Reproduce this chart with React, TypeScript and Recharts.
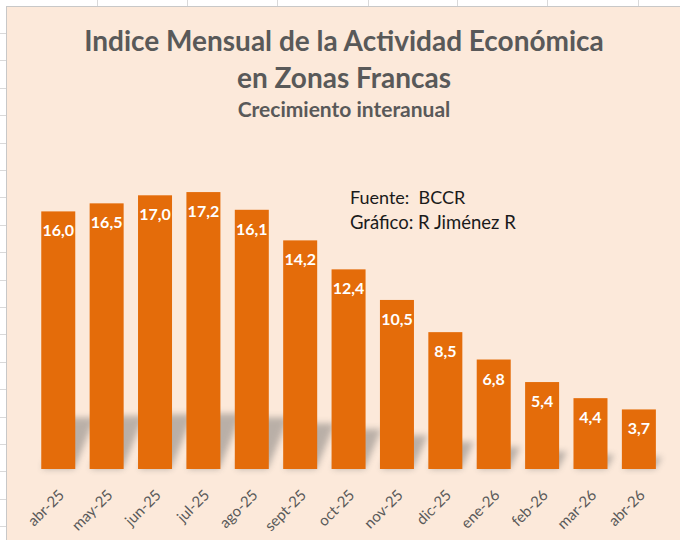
import { BarChart, Bar, XAxis, YAxis, LabelList } from "recharts";

// datos: crecimiento interanual del IMAE en zonas francas (%)
const months = [
  "abr-25",
  "may-25",
  "jun-25",
  "jul-25",
  "ago-25",
  "sept-25",
  "oct-25",
  "nov-25",
  "dic-25",
  "ene-26",
  "feb-26",
  "mar-26",
  "abr-26",
];
const growth = [16.0, 16.5, 17.0, 17.2, 16.1, 14.2, 12.4, 10.5, 8.5, 6.8, 5.4, 4.4, 3.7];

const chartData = months.map((m, i) => ({ mes: m, valor: growth[i] }));

const ORANGE = "#E46C0A";
const GRAY = "#595959";
const FONT = "Lato, 'Open Sans', sans-serif";

// columnas y filas de la hoja de cálculo detrás del gráfico
const sheetCols = [97, 187, 277, 368, 457, 547, 638];
const sheetRows = Array.from({ length: 19 }, (_, k) => 33 + k * 27.4);

const fmt = (v: number) => v.toFixed(1).replace(".", ",");

// barra con sombra en perspectiva (como el efecto de Excel)
const ShadowBar = (props: any) => {
  const { x, y, width, height } = props;
  if (!height) return null;
  const base = y + height;
  const sh = height * 0.2;
  const dx = sh * 0.35 + 2;
  const pts = [
    [x + 1, base],
    [x + width - 1, base],
    [x + width + dx, base - sh],
    [x + dx + 2, base - sh],
  ]
    .map((p) => p.join(","))
    .join(" ");
  return (
    <g>
      <polygon points={pts} fill="#6b6b6b" opacity={0.45} filter="url(#shadowBlur)" />
      <rect x={x} y={y} width={width} height={height} fill={ORANGE} />
    </g>
  );
};

const MonthTick = (props: any) => {
  const { x, y, payload } = props;
  const tx = x + 7;
  const ty = y + 19;
  return (
    <text
      x={tx}
      y={ty}
      transform={`rotate(-45, ${tx}, ${ty})`}
      textAnchor="end"
      fill={GRAY}
      fontSize={15}
      fontFamily={FONT}
    >
      {payload.value}
    </text>
  );
};

const ValueLabel = (props: any) => {
  const { x, y, width, value } = props;
  return (
    <text
      x={x + width / 2}
      y={y + 25}
      textAnchor="middle"
      fill="#ffffff"
      fontSize={16}
      fontWeight="bold"
      fontFamily={FONT}
    >
      {fmt(value)}
    </text>
  );
};

export default function App() {
  return (
    <div
      style={{
        position: "absolute",
        left: 0,
        top: 0,
        width: 680,
        height: 540,
        background: "#ffffff",
        overflow: "hidden",
        fontFamily: FONT,
      }}
    >
      {sheetCols.map((cx) => (
        <div
          key={"c" + cx}
          style={{ position: "absolute", left: cx, top: 0, width: 1, height: 6, background: "#D9D9D9" }}
        />
      ))}
      {sheetRows.map((ry) => (
        <div
          key={"r" + ry}
          style={{ position: "absolute", left: 0, top: ry, width: 6, height: 1, background: "#D9D9D9" }}
        />
      ))}
      <div
        style={{
          position: "absolute",
          left: 6,
          top: 6,
          width: 680,
          height: 540,
          background: "#FCE9DA",
          borderLeft: "1px solid #C8C8C8",
          borderTop: "1px solid #C8C8C8",
        }}
      >
        <BarChart
          width={674}
          height={534}
          data={chartData}
          margin={{ top: 140, right: 18, left: 27, bottom: 12 }}
          barCategoryGap="15%"
        >
          <defs>
            <filter id="shadowBlur" x="-50%" y="-50%" width="200%" height="200%">
              <feGaussianBlur stdDeviation="3" />
            </filter>
          </defs>
          <text x={337} y={44} textAnchor="middle" fill={GRAY} fontSize={28} fontWeight="bold" fontFamily={FONT}>
            Indice Mensual de la Actividad Económica
          </text>
          <text x={337} y={81} textAnchor="middle" fill={GRAY} fontSize={28} fontWeight="bold" fontFamily={FONT}>
            en Zonas Francas
          </text>
          <text x={337} y={110} textAnchor="middle" fill={GRAY} fontSize={21} fontWeight="bold" fontFamily={FONT}>
            Crecimiento interanual
          </text>
          <text x={343} y={197} fill="#1a1a1a" fontSize={18} fontFamily={FONT} style={{ whiteSpace: "pre" }}>
            {"Fuente:  BCCR"}
          </text>
          <text x={343} y={222} fill="#1a1a1a" fontSize={18.5} fontFamily={FONT}>
            Gráfico: R Jiménez R
          </text>
          <XAxis
            dataKey="mes"
            axisLine={false}
            tickLine={false}
            interval={0}
            height={60}
            tick={<MonthTick />}
          />
          <YAxis hide domain={[0, 20]} />
          <Bar dataKey="valor" fill={ORANGE} shape={ShadowBar} isAnimationActive={false}>
            <LabelList dataKey="valor" content={<ValueLabel />} />
          </Bar>
        </BarChart>
      </div>
    </div>
  );
}
